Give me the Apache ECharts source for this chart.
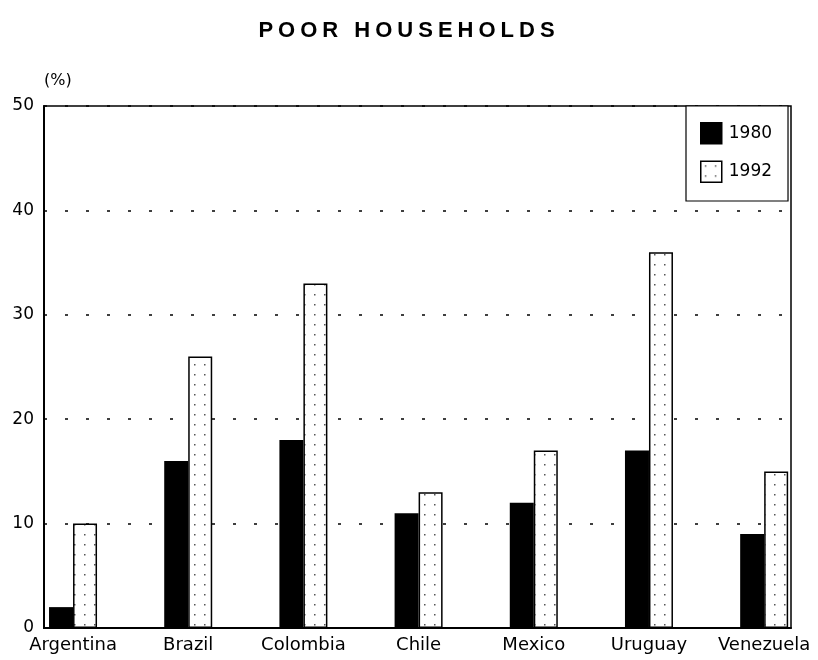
<!DOCTYPE html>
<html>
<head>
<meta charset="utf-8">
<script src="https://cdn.jsdelivr.net/npm/echarts@6/dist/echarts.min.js"></script>
<style>
  html, body { margin: 0; padding: 0; background: #fff; }
  #wrap { position: relative; width: 818px; height: 660px; }
  #title {
    position: absolute; left: 0; top: 17px; width: 818px; text-align: center;
    font-family: "Liberation Sans", Arial, sans-serif; font-weight: bold;
    font-size: 22px; letter-spacing: 5px; color: #000;
  }
  #chart { width: 818px; height: 660px; }
</style>
</head>
<body>
<div id="wrap">
  <div id="chart"></div>
  <div id="title">POOR HOUSEHOLDS</div>
</div>
<script>
// data
const countries = ['Argentina', 'Brazil', 'Colombia', 'Chile', 'Mexico', 'Uruguay', 'Venezuela'];
const poor1980 = [2, 16, 18, 11, 12, 17, 9];
const poor1992 = [10, 26, 33, 13, 17, 36, 15];
const yTicks = [0, 10, 20, 30, 40, 50];

// dotted fill for the 1992 bars
function dotPattern() {
  const c = document.createElement('canvas');
  c.width = 10; c.height = 10;
  const ctx = c.getContext('2d');
  ctx.fillStyle = '#fff';
  ctx.fillRect(0, 0, 10, 10);
  ctx.fillStyle = '#555';
  ctx.fillRect(4, 4, 1.5, 1.5);
  return c;
}

const chart = echarts.init(document.getElementById('chart'));
const font = '"DejaVu Sans", sans-serif';

chart.setOption({
  animation: false,
  grid: {
    left: 44, right: 27, top: 106, bottom: 32,
    show: true, borderColor: '#000', borderWidth: 1.5, backgroundColor: 'transparent'
  },
  legend: {
    orient: 'vertical',
    left: 686, top: 106,
    padding: [16, 16, 18, 14],
    itemWidth: 21, itemHeight: 21, itemGap: 16,
    icon: 'rect',
    backgroundColor: '#fff', borderColor: '#000', borderWidth: 1.2,
    textStyle: { fontFamily: font, fontSize: 17, color: '#000', padding: [0, 0, 0, 2] },
    data: [
      { name: '1980', itemStyle: { color: '#000', borderColor: '#000', borderWidth: 1.5 } },
      { name: '1992', itemStyle: { color: { image: dotPattern(), repeat: 'repeat' }, borderColor: '#000', borderWidth: 1.5 } }
    ]
  },
  xAxis: {
    type: 'value',
    min: -0.252, max: 6.233,
    splitLine: { show: false },
    axisTick: { show: false },
    axisLine: { show: true, lineStyle: { color: '#000', width: 2 } },
    axisLabel: {
      customValues: countries.map((c, i) => i),
      formatter: v => countries[Math.round(v)] || '',
      fontFamily: font, fontSize: 18, color: '#000', margin: 8
    }
  },
  yAxis: {
    type: 'value',
    min: 0, max: 50, interval: 10,
    name: '(%)',
    nameLocation: 'end',
    nameGap: 17,
    nameTextStyle: { fontFamily: font, fontSize: 16, color: '#000', align: 'left' },
    axisTick: { show: false },
    axisLine: { show: true, onZero: false, lineStyle: { color: '#000', width: 2 } },
    axisLabel: {
      fontFamily: font, fontSize: 17, color: '#000', margin: 10,
      formatter: v => yTicks.includes(v) ? String(v) : ''
    },
    splitLine: { show: true, lineStyle: { color: '#000', type: [3, 18], width: 1.5 } }
  },
  series: [
    {
      name: '1980', type: 'bar', barWidth: 24, barGap: '0%',
      itemStyle: { color: '#000' },
      data: poor1980.map((v, i) => [i, v])
    },
    {
      name: '1992', type: 'bar', barWidth: 24, barGap: '0%',
      itemStyle: { color: { image: dotPattern(), repeat: 'repeat' }, borderColor: '#000', borderWidth: 1.5 },
      data: poor1992.map((v, i) => [i, v])
    }
  ]
});
</script>
</body>
</html>
